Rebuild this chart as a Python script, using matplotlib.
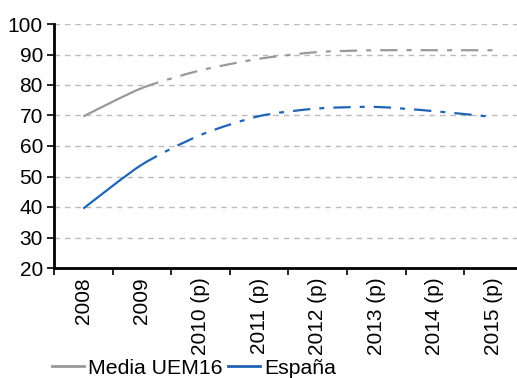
import matplotlib
matplotlib.use("Agg")
import matplotlib.pyplot as plt
from matplotlib.path import Path
from matplotlib.patches import PathPatch
from matplotlib.lines import Line2D

plt.rcParams['font.family'] = ['Liberation Sans', 'DejaVu Sans']
plt.rcParams['lines.scale_dashes'] = False

years = ['2008', '2009', '2010 (p)', '2011 (p)', '2012 (p)', '2013 (p)', '2014 (p)', '2015 (p)']
media_uem16 = [69.7, 79.0, 84.8, 88.6, 90.8, 91.4, 91.4, 91.4]
espana = [39.5, 53.9, 63.6, 69.8, 72.3, 72.8, 71.4, 69.5]

gray = '#999999'
blue = '#1f64b5'


def smooth_path(xs, ys, start, stop, k=8):
    # bezier through the points, like a smoothed line
    verts = [(xs[start], ys[start])]
    codes = [Path.MOVETO]
    n = len(xs)
    for i in range(start, stop):
        p0 = (xs[max(i - 1, 0)], ys[max(i - 1, 0)])
        p1 = (xs[i], ys[i])
        p2 = (xs[i + 1], ys[i + 1])
        p3 = (xs[min(i + 2, n - 1)], ys[min(i + 2, n - 1)])
        c1 = (p1[0] + (p2[0] - p0[0]) / k, p1[1] + (p2[1] - p0[1]) / k)
        c2 = (p2[0] - (p3[0] - p1[0]) / k, p2[1] - (p3[1] - p1[1]) / k)
        verts += [c1, c2, p2]
        codes += [Path.CURVE4] * 3
    return Path(verts, codes)


fig = plt.figure(figsize=(5.17, 3.78), dpi=100)
ax = fig.add_axes([54 / 517, 110 / 378, 463 / 517, 244 / 378])

x = list(range(len(years)))
for vals, col in [(media_uem16, gray), (espana, blue)]:
    # actual data: solid, projections: dash-dot
    ax.add_patch(PathPatch(smooth_path(x, vals, 0, 1), fill=False, ec=col, lw=1.6,
                           capstyle='butt', zorder=3))
    ax.add_patch(PathPatch(smooth_path(x, vals, 1, len(x) - 1), fill=False, ec=col, lw=1.6,
                           linestyle=(0, (12.5, 6.5, 3.6, 6.5)), capstyle='butt', zorder=3))

ax.set_xlim(-0.5, 7.4)
ax.set_ylim(20, 100)
ax.set_yticks(range(20, 101, 10))
ax.yaxis.grid(True, color='#bbbbbb', linestyle=(0, (4, 3.5)), linewidth=1.0)
ax.set_axisbelow(True)

ax.set_xticks([i - 0.5 for i in range(len(years))])
ax.set_xticklabels([])
ax.set_xticks(x, minor=True)
ax.set_xticklabels(years, minor=True, rotation=90, fontsize=15)
ax.tick_params(axis='x', which='minor', length=0, pad=7)
ax.tick_params(axis='x', which='major', length=5, width=1.2, direction='out')
ax.tick_params(axis='y', length=5, width=1.2, labelsize=15, pad=3)

for s in ['top', 'right']:
    ax.spines[s].set_visible(False)
for s in ['left', 'bottom']:
    ax.spines[s].set_linewidth(2)

handles = [Line2D([], [], color=gray, lw=2), Line2D([], [], color=blue, lw=2)]
fig.legend(handles, ['Media UEM16', 'España'], loc='center left', bbox_to_anchor=(52 / 517, 1 - 368 / 378),
           ncol=2, frameon=False, fontsize=15.3, handlelength=1.5, handletextpad=0.2,
           columnspacing=0.25, borderaxespad=0, borderpad=0)

fig.savefig('out.png', dpi=100)
